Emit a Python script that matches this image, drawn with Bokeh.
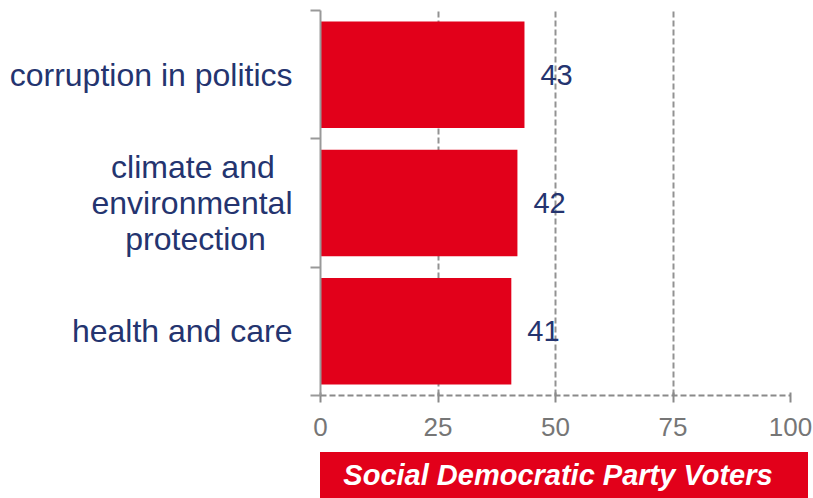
from bokeh.plotting import figure
from bokeh.models import FixedTicker, Range1d, ColumnDataSource, LabelSet, Div
from bokeh.layouts import column
from bokeh.embed import file_html
from bokeh.resources import INLINE
from bokeh.core.properties import value

NB = "\u00a0"
categories = ["corruption in politics",
              "climate and" + NB * 2 + "\nenvironmental\nprotection" + NB * 3,
              "health and care"]
values = [43.4, 41.9, 40.6]
value_labels = ["43", "42", "41"]
x_ticks = [0, 25, 50, 75, 100]
footer = "Social Democratic Party Voters"

RED = "#E2001A"
NAVY = "#24346F"
FONT = "Liberation Sans"

n = len(categories)
ypos = [n - i - 0.5 for i in range(n)]
bounds = list(range(n + 1))

src = ColumnDataSource(dict(y=ypos, v=values, lab=value_labels))

p = figure(width=813, height=446, x_range=Range1d(0, 100), y_range=Range1d(0, n),
           output_backend="svg", toolbar_location=None,
           min_border_left=320, min_border_right=23, min_border_top=10, min_border_bottom=51)
p.outline_line_color = None
p.hbar(y="y", right="v", left=0, height=0.83, source=src, fill_color=RED, line_color=None)

p.add_layout(LabelSet(x="v", y="y", text="lab", source=src, x_offset=16,
                      text_baseline="middle", text_align="left",
                      text_font_size=value("29px"), text_color=NAVY,
                      text_font=value(FONT)))

# y axis
p.yaxis.ticker = FixedTicker(ticks=ypos, minor_ticks=bounds)
p.yaxis.major_label_overrides = {y: c for y, c in zip(ypos, categories)}
p.yaxis.major_tick_line_color = None
p.yaxis.major_tick_out = 0
p.yaxis.major_tick_in = 0
p.yaxis.minor_tick_out = 10
p.yaxis.minor_tick_in = 0
p.yaxis.minor_tick_line_color = "#999999"
p.yaxis.minor_tick_line_width = 2
p.yaxis.axis_line_color = "#999999"
p.yaxis.axis_line_width = 2
p.yaxis.major_label_standoff = 18
p.yaxis.major_label_text_font = FONT
p.yaxis.major_label_text_font_size = "32px"
p.yaxis.major_label_text_color = NAVY
p.yaxis.major_label_text_line_height = 1.0

# x axis
p.xaxis.ticker = FixedTicker(ticks=x_ticks, minor_ticks=[])
p.xaxis.axis_line_color = "#8a8a8a"
p.xaxis.axis_line_width = 2
p.xaxis.axis_line_dash = "6 3"
p.xaxis.major_tick_in = 3
p.xaxis.major_tick_out = 7
p.xaxis.major_tick_line_color = "#8a8a8a"
p.xaxis.major_tick_line_width = 2
p.xaxis.major_label_standoff = 15
p.xaxis.major_label_text_font = FONT
p.xaxis.major_label_text_font_size = "26px"
p.xaxis.major_label_text_color = "#767676"

p.xgrid.ticker = FixedTicker(ticks=x_ticks[1:])
p.xgrid.grid_line_color = "#929292"
p.xgrid.grid_line_width = 2
p.xgrid.grid_line_dash = "6 3"
p.ygrid.grid_line_color = None

# footer band
band = Div(text=footer, width=488, height=46, margin=(6, 0, 0, 320),
           styles={"background-color": RED, "color": "white",
                   "font-family": FONT, "font-weight": "bold", "font-style": "italic",
                   "font-size": "29px", "text-align": "center", "line-height": "46px",
                   "text-indent": "-12px",
                   "overflow": "hidden", "white-space": "nowrap"})

layout = column(p, band, spacing=0)
open("out.html", "w").write(file_html(layout, INLINE))
